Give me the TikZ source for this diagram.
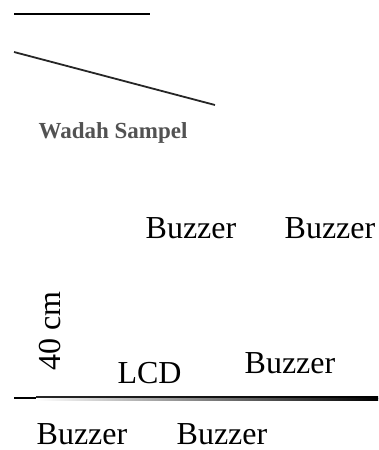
\documentclass[tikz,border=0pt]{standalone}
\usepackage{fontspec}
\setmainfont{Liberation Serif}
\begin{document}
\begin{tikzpicture}[x=1pt,y=-1pt,
  lbl/.style={anchor=base,inner sep=0pt,font=\fontsize{32}{36}\selectfont},
  wlbl/.style={anchor=base,inner sep=0pt,text=black!68,font=\fontsize{23}{26}\selectfont\bfseries}]
\useasboundingbox (0,0) rectangle (379,450);
% top line and lid
\coordinate (t1) at (14,14); \coordinate (t2) at (150,14);
\draw[line width=2.5pt] (t1) -- (t2);
\coordinate (d1) at (14,52); \coordinate (d2) at (215,105);
\draw[line width=1.8pt,black!85] (d1) -- (d2);
\node[wlbl] (wadah) at (113,138) {Wadah Sampel};
% labels
\node[lbl] (bz1) at (191,238) {Buzzer};
\node[lbl] (bz2) at (330,238) {Buzzer};
\node[lbl,rotate=90] (dim) at (60,331) {40 cm};
\node[lbl] (lcd) at (149.5,383) {LCD};
\node[lbl] (bz3) at (290,373) {Buzzer};
\node[lbl,text depth=0pt] (bz4) at (82,444.5) {Buzzer};
\node[lbl,text depth=0pt] (bz5) at (222,444.5) {Buzzer};
% bottom line with gradient
\fill[left color=black!85,middle color=black!55,right color=black] (36,396.5) rectangle (378,398.3);
\fill[left color=white,right color=black] (36,398.3) rectangle (378,400.2);
\fill[black] (14,396.5) rectangle (36,398.8);
\end{tikzpicture}
\end{document}
